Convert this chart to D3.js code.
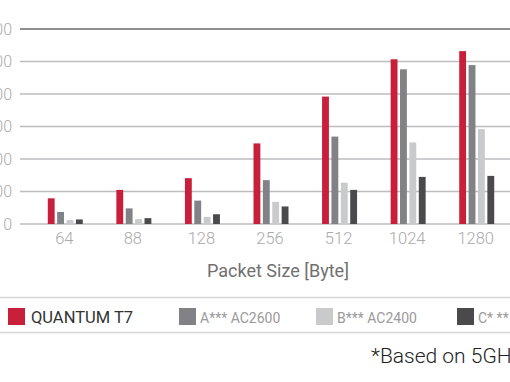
<!DOCTYPE html>
<html><head><meta charset="utf-8">
<script src="https://cdn.jsdelivr.net/npm/d3@7/dist/d3.min.js"></script>
<style>
body{margin:0;background:#fff;}
svg{display:block;font-family:Roboto,"Noto Sans",sans-serif;}
</style></head>
<body>
<script>
const categories = ["64","88","128","256","512","1024","1280"];
const seriesNames = ["QUANTUM T7","A*** AC2600","B*** AC2400","C* ** ***"];
const quantum = [79,105,141,248,392,507,532];
const aAC2600 = [37,48,72,135,269,476,489];
const bAC2400 = [12,15,22,68,127,251,292];
const cSeries = [14,18,30,54,105,145,148];
const yTicks = [0,100,200,300,400,500,600];
const colors = ["#c8203a","#808285","#c9cacc","#4a4a4c"];

const series = [quantum,aAC2600,bAC2400,cSeries];
const W=510,H=382;
const svg=d3.select("body").append("svg").attr("width",W).attr("height",H);

const y=d3.scaleLinear().domain([0,600]).range([224,29]);
const x=d3.scaleBand().domain(categories).range([30,510]);
const inner=d3.scaleBand().domain(d3.range(4)).range([-16.5,18.5]).paddingInner(0.27);

// gridlines
svg.append("g").selectAll("line").data(yTicks).join("line")
  .attr("x1",20).attr("x2",W).attr("y1",d=>y(d)).attr("y2",d=>y(d))
  .attr("stroke",d=>d===600?"#8e8e90":"#bdbdbf").attr("stroke-width",d=>d===600?2:1.5);

// y labels
const yAxis=d3.axisLeft(y).tickValues(yTicks).tickSize(0).tickPadding(0);
const ga=svg.append("g").attr("transform","translate(12,0)").call(yAxis);
ga.select(".domain").remove();
ga.selectAll("text").attr("fill","#aaaaaa").attr("font-size",16).attr("font-weight",300).attr("font-family","Roboto");

// bars
const groups=svg.append("g").selectAll("g").data(categories).join("g")
  .attr("transform",d=>`translate(${x(d)+x.bandwidth()/2},0)`);
groups.selectAll("rect").data((d,i)=>series.map((s,k)=>({k,v:s[i]}))).join("rect")
  .attr("x",d=>inner(d.k)).attr("width",inner.bandwidth())
  .attr("y",d=>y(d.v)).attr("height",d=>y(0)-y(d.v)).attr("fill",d=>colors[d.k]);

// x axis labels
const xAxis=d3.axisBottom(x).tickSize(0).tickPadding(6);
const gx=svg.append("g").attr("transform","translate(0,226)").call(xAxis);
gx.select(".domain").remove();
gx.selectAll("text").attr("fill","#aaaaaa").attr("font-size",16.5).attr("font-weight",300).attr("font-family","Roboto");

svg.append("text").attr("x",278).attr("y",277).attr("text-anchor","middle")
  .attr("fill","#707070").attr("font-size",18).text("Packet Size [Byte]");

// legend
svg.append("line").attr("x1",0).attr("x2",W).attr("y1",297.5).attr("y2",297.5).attr("stroke","#d6d6d6").attr("stroke-width",1.5);
svg.append("line").attr("x1",0).attr("x2",W).attr("y1",332.5).attr("y2",332.5).attr("stroke","#d6d6d6").attr("stroke-width",1.5);
const legX=[8,179,316,457];
const leg=svg.append("g").selectAll("g").data(seriesNames).join("g")
  .attr("transform",(d,i)=>`translate(${legX[i]},308)`);
leg.append("rect").attr("width",17).attr("height",17).attr("fill",(d,i)=>colors[i]);
leg.append("text").attr("x",(d,i)=>i===0?23:21).attr("y",14.5)
  .attr("font-size",(d,i)=>i===0?16.5:14)
  .attr("fill",(d,i)=>i===0?"#333333":"#9a9a9a")
  .attr("font-weight",400)
  .text(d=>d);

svg.append("text").attr("x",371).attr("y",363).attr("fill","#222")
  .attr("font-size",21).attr("font-weight",300).text("*Based on 5GHz");
</script>
</body></html>
